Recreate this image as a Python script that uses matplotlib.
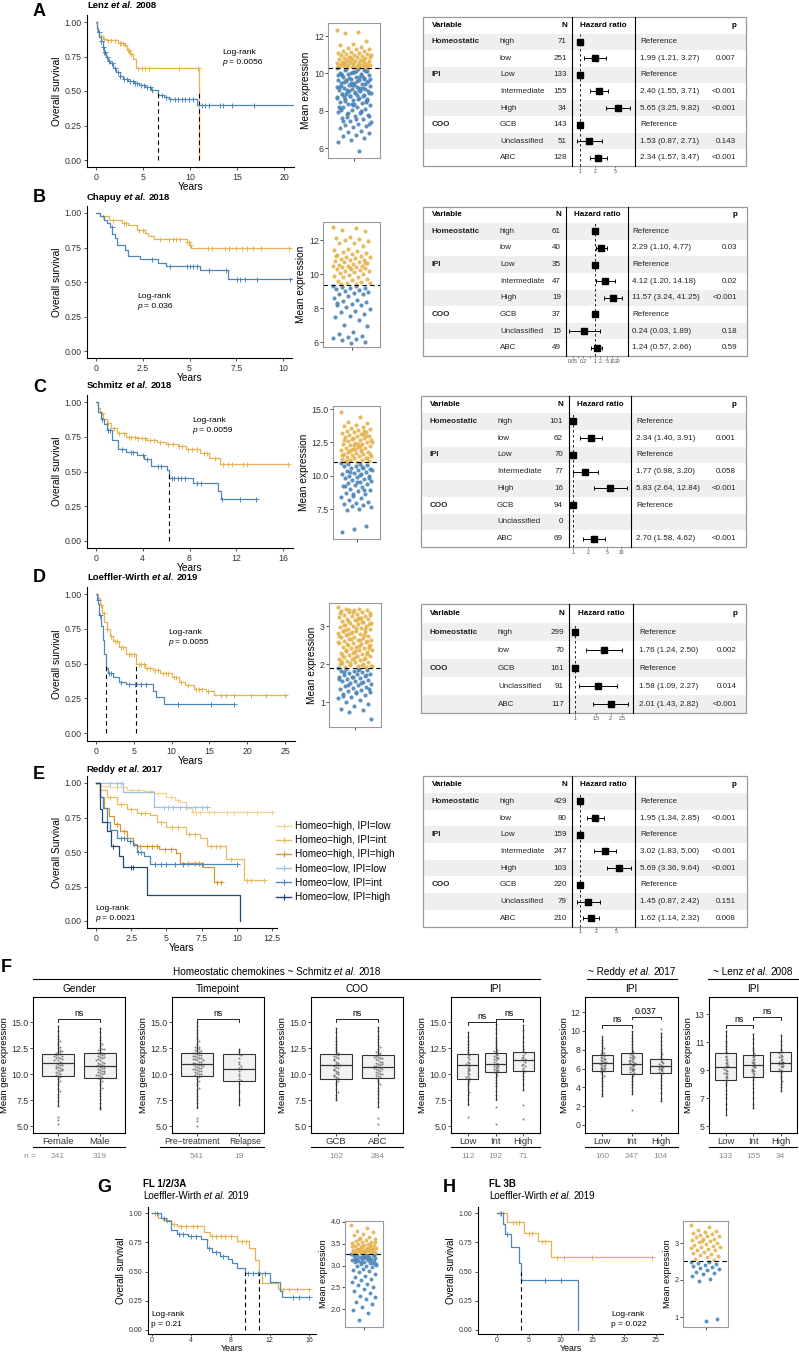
import matplotlib
matplotlib.use('Agg')
import matplotlib.pyplot as plt
from matplotlib.patches import Rectangle
from matplotlib.lines import Line2D
from matplotlib.ticker import NullLocator
from matplotlib.transforms import blended_transform_factory, ScaledTranslation
import numpy as np

plt.rcParams['font.family'] = ['Liberation Sans', 'DejaVu Sans']

W, H = 799, 1353
GOLD = '#E5B450'
BLUE = '#4E86B9'
INK = '#333333'

# ---------------- Kaplan-Meier data (time in years, survival) ----------------
# A  Lenz et al. 2008
A_hi_t = [0, 0.1, 0.3, 0.7, 1.1, 2.3, 3.0, 3.3, 3.6, 3.9, 4.3, 11.0]
A_hi_s = [1.0, 0.93, 0.90, 0.88, 0.87, 0.85, 0.83, 0.80, 0.77, 0.73, 0.665, 0.0]
A_hi_cens = [0.5, 0.8, 1.3, 1.6, 2.0, 2.5, 2.7, 2.9, 3.1, 3.4, 3.5, 3.7, 4.5, 4.9, 5.2, 5.6, 8.8, 10.8]
A_lo_t = [0, 0.1, 0.2, 0.35, 0.5, 0.7, 0.9, 1.1, 1.3, 1.5, 1.8, 2.1, 2.5, 2.9, 3.4, 4.0, 4.6, 5.2,
          5.8, 6.6, 7.2, 7.8, 10.7, 21.0]
A_lo_s = [1.0, 0.96, 0.93, 0.89, 0.86, 0.82, 0.78, 0.75, 0.72, 0.70, 0.67, 0.64, 0.61, 0.59, 0.57,
          0.56, 0.545, 0.53, 0.51, 0.47, 0.455, 0.44, 0.40, 0.40]
A_lo_cens = [0.3, 0.5, 0.7, 0.9, 1.0, 1.2, 1.4, 1.7, 2.0, 2.3, 2.6, 3.0, 3.3, 3.6, 3.9, 4.2, 4.4,
             4.8, 5.1, 5.4, 5.7, 6.0, 7.0, 7.4, 7.9, 8.4, 8.7, 9.1, 9.5, 9.9, 10.3, 11.3, 11.6,
             12.0, 13.2, 13.5, 14.5, 16.8]

# B  Chapuy et al. 2018
B_hi_t = [0, 0.2, 0.7, 1.4, 1.7, 2.2, 2.6, 2.8, 3.1, 4.85, 5.0, 5.07, 10.45]
B_hi_s = [1.0, 0.98, 0.95, 0.93, 0.91, 0.88, 0.855, 0.83, 0.81, 0.79, 0.77, 0.745, 0.745]
B_hi_cens = [0.4, 0.9, 1.5, 1.6, 2.3, 2.5, 3.4, 3.9, 4.1, 4.3, 4.5, 4.85, 4.95, 5.02, 6.0, 6.2,
             6.9, 7.1, 7.5, 7.8, 8.1, 8.4, 8.8, 10.3]
B_lo_t = [0, 0.2, 0.45, 0.6, 0.75, 0.85, 1.0, 1.1, 1.55, 1.73, 2.35, 3.3, 3.77, 5.55, 7.07, 10.45]
B_lo_s = [1.0, 0.975, 0.95, 0.925, 0.90, 0.85, 0.82, 0.77, 0.73, 0.69, 0.667, 0.64, 0.615, 0.59,
          0.52, 0.52]
B_lo_cens = [0.84, 2.98, 3.96, 4.85, 5.03, 5.2, 5.38, 6.06, 6.93, 7.52, 7.7, 7.97, 8.59, 10.37]

# C  Schmitz et al. 2018
C_hi_t = [0, 0.15, 0.34, 0.6, 0.9, 1.3, 1.77, 2.6, 3.5, 4.3, 5.2, 6.0, 7.0, 7.7, 8.9, 9.7, 10.6, 16.4]
C_hi_s = [1.0, 0.96, 0.92, 0.88, 0.85, 0.81, 0.78, 0.75, 0.74, 0.73, 0.715, 0.70, 0.68, 0.66,
          0.63, 0.60, 0.555, 0.555]
C_hi_cens = [0.5, 1.0, 1.5, 2.0, 2.4, 2.8, 3.0, 3.3, 3.6, 3.9, 4.2, 4.6, 5.0, 5.5, 6.2, 6.6, 7.1,
             7.4, 7.9, 8.2, 8.6, 9.2, 9.5, 10.2, 10.9, 11.3, 11.6, 12.6, 12.9, 16.4]
C_lo_t = [0, 0.2, 0.4, 0.7, 0.9, 1.33, 1.9, 2.6, 3.5, 4.1, 4.7, 6.1, 6.25, 8.3, 10.45, 10.7, 13.7]
C_lo_s = [1.0, 0.93, 0.88, 0.84, 0.80, 0.73, 0.66, 0.64, 0.62, 0.59, 0.54, 0.51, 0.45, 0.42,
          0.36, 0.30, 0.30]
C_lo_cens = [0.5, 1.0, 1.2, 2.2, 3.0, 3.2, 4.0, 4.4, 5.3, 5.6, 6.5, 6.7, 7.0, 7.3, 7.6, 8.6, 9.0,
             10.8, 12.3, 13.7]

# D  Loeffler-Wirth et al. 2019
D_hi_t = [0, 0.2, 0.5, 0.8, 1.1, 1.4, 1.8, 2.3, 3.0, 4.0, 5.3, 6.5, 7.5, 8.5, 10.0, 11.0, 11.8,
          12.9, 14.5, 15.6, 25.2]
D_hi_s = [1.0, 0.97, 0.92, 0.86, 0.80, 0.75, 0.70, 0.66, 0.62, 0.57, 0.50, 0.47, 0.45, 0.43,
          0.40, 0.37, 0.345, 0.315, 0.30, 0.27, 0.27]
D_hi_cens = [0.6, 1.0, 1.5, 2.0, 2.5, 2.8, 3.3, 3.6, 4.3, 4.6, 5.0, 5.7, 6.0, 6.3, 6.8, 7.2, 7.8,
             8.2, 8.8, 9.2, 9.5, 10.3, 10.6, 11.3, 12.2, 13.2, 13.6, 14.0, 14.8, 16.5, 17.2,
             18.3, 20.5, 22.5, 25.0]
D_lo_t = [0, 0.15, 0.3, 0.45, 0.6, 0.9, 1.1, 1.3, 1.6, 2.3, 3.0, 4.0, 7.6, 8.0, 9.0, 18.3]
D_lo_s = [1.0, 0.96, 0.93, 0.85, 0.77, 0.67, 0.57, 0.47, 0.43, 0.40, 0.37, 0.35, 0.30, 0.26,
          0.21, 0.21]
D_lo_cens = [0.2, 0.5, 1.7, 2.0, 3.3, 4.4, 5.2, 5.9, 6.6, 10.8, 15.2, 18.3]

# E  Reddy et al. 2017 (Homeostatic x IPI)
E_labels = ['Homeo=high, IPI=low', 'Homeo=high, IPI=int', 'Homeo=high, IPI=high',
            'Homeo=low, IPI=low', 'Homeo=low, IPI=int', 'Homeo=low, IPI=high']
E_colors = ['#F0D496', '#E8BB5E', '#D9962A', '#9EC1DF', '#4E86B9', '#24466B']
E_hl_t = [0, 0.3, 1.0, 2.2, 3.4, 4.1, 5.0, 5.6, 6.0, 6.4, 6.8, 12.5]
E_hl_s = [1.0, 0.98, 0.97, 0.95, 0.94, 0.93, 0.90, 0.88, 0.86, 0.82, 0.79, 0.79]
E_hl_cens = [1.5, 2.5, 3.0, 3.8, 4.4, 5.3, 5.8, 6.9, 7.1, 7.4, 8.0, 8.4, 9.3, 9.8, 10.7, 11.4, 12.5]
E_hi_t = [0, 0.3, 0.75, 1.5, 2.2, 2.9, 3.8, 4.3, 5.0, 6.4, 7.4, 7.9, 9.2, 10.5, 11.9]
E_hi_s = [1.0, 0.95, 0.90, 0.85, 0.81, 0.78, 0.77, 0.72, 0.68, 0.63, 0.60, 0.54, 0.45, 0.30, 0.30]
E_hi_cens = [1.0, 1.8, 2.5, 3.2, 3.5, 4.6, 5.4, 5.8, 6.6, 7.0, 8.2, 8.5, 8.8, 9.6, 10.7, 11.0, 11.9]
E_hh_t = [0, 0.3, 0.6, 0.9, 1.3, 1.7, 2.2, 2.6, 2.9, 4.5, 5.7, 6.0, 7.6, 8.4, 8.9]
E_hh_s = [1.0, 0.90, 0.82, 0.76, 0.70, 0.65, 0.60, 0.56, 0.545, 0.52, 0.49, 0.42, 0.39, 0.28, 0.28]
E_hh_cens = [1.5, 2.0, 2.7, 3.1, 3.6, 4.0, 4.3, 4.9, 5.3, 6.5, 7.0, 7.3, 8.6, 8.9]
E_ll_t = [0, 1.95, 4.1, 7.85]
E_ll_s = [1.0, 0.935, 0.826, 0.826]
E_ll_cens = [1.0, 1.5, 1.8, 4.8, 5.1, 5.5, 6.0, 6.4, 7.0, 7.5, 7.85]
E_li_t = [0, 0.3, 0.5, 0.8, 1.0, 1.5, 2.2, 2.6, 2.9, 3.4, 3.8, 10.0]
E_li_s = [1.0, 0.90, 0.82, 0.72, 0.66, 0.60, 0.58, 0.55, 0.50, 0.47, 0.415, 0.415]
E_li_cens = [1.8, 2.0, 2.4, 3.0, 3.2, 4.2, 4.6, 5.0, 5.6, 6.2, 7.5, 10.0]
E_lh_t = [0, 0.3, 0.4, 0.76, 1.1, 1.6, 1.95, 3.6, 10.2]
E_lh_s = [1.0, 0.81, 0.72, 0.65, 0.54, 0.47, 0.39, 0.19, 0.0]
E_lh_cens = [1.2, 2.5, 2.6]

# G  FL 1/2/3A
G_hi_t = [0, 0.6, 1.1, 1.9, 2.5, 5.3, 5.9, 8.7, 9.9, 10.5, 10.9, 11.2, 12.8, 16.0]
G_hi_s = [1.0, 0.96, 0.94, 0.91, 0.885, 0.84, 0.80, 0.76, 0.70, 0.60, 0.49, 0.40, 0.35, 0.35]
G_hi_cens = [0.3, 1.5, 2.2, 3.0, 3.5, 4.2, 4.6, 6.1, 6.5, 7.0, 7.4, 8.0, 9.2, 9.6, 13.3, 14.0, 14.8, 16.0]
G_lo_t = [0, 0.9, 1.4, 1.9, 2.5, 3.7, 5.0, 5.6, 6.1, 6.9, 7.7, 8.2, 8.7, 9.5, 12.0, 13.0, 13.2, 16.0]
G_lo_s = [1.0, 0.96, 0.93, 0.855, 0.82, 0.80, 0.775, 0.70, 0.67, 0.63, 0.61, 0.57, 0.53, 0.49,
          0.41, 0.33, 0.28, 0.28]
G_lo_cens = [0.5, 1.2, 2.8, 3.2, 4.0, 4.5, 5.8, 6.5, 7.2, 9.8, 10.3, 10.8, 11.5, 14.4, 15.0, 16.0]

# H  FL 3B
H_hi_t = [0, 1.5, 4.3, 6.5, 8.5, 24.4]
H_hi_s = [1.0, 0.92, 0.83, 0.76, 0.62, 0.62]
H_hi_cens = [0.5, 1.0, 2.5, 3.0, 3.5, 5.0, 5.5, 7.0, 7.5, 9.5, 10.5, 15.0, 24.4]
H_lo_t = [0, 1.0, 1.3, 2.2, 3.4, 3.8, 12.8]
H_lo_s = [1.0, 0.91, 0.82, 0.71, 0.57, 0.43, 0.0]
H_lo_cens = [0.6, 1.5, 7.5, 10.0]

# ---------------- Mean expression strip data ----------------
A_strip_hi = [12.31, 12.22, 12.18, 11.72, 11.55, 11.5, 11.41, 11.36, 11.3, 11.28, 11.22, 11.2, 11.15,
              11.11, 11.1, 11.05, 11.02, 10.98, 10.96, 10.93, 10.9, 10.88, 10.85, 10.84, 10.8, 10.78,
              10.76, 10.73, 10.7, 10.68, 10.66, 10.63, 10.61, 10.6, 10.57, 10.55, 10.52, 10.5, 10.5,
              10.47, 10.45, 10.44, 10.42, 10.4, 10.39, 10.37, 10.36, 10.34, 10.33, 10.32, 10.31,
              10.31, 10.58, 10.72, 10.9, 11.0, 10.45, 10.62, 10.38, 10.55]
A_strip_lo = [10.27, 10.21, 10.18, 10.12, 10.09, 10.03, 9.98, 9.96, 9.91, 9.83, 9.81, 9.77, 9.72,
              9.66, 9.63, 9.6, 9.54, 9.49, 9.47, 9.41, 9.37, 9.33, 9.29, 9.24, 9.18, 9.16, 9.11,
              9.06, 9.02, 8.97, 8.93, 8.89, 8.84, 8.79, 8.73, 8.7, 8.64, 8.58, 8.55, 8.47, 8.41,
              8.36, 8.31, 8.22, 8.17, 8.09, 8.04, 7.95, 7.89, 7.83, 7.76, 7.69, 7.61, 7.55, 7.47,
              7.38, 7.31, 7.24, 7.19, 7.11, 7.06, 6.93, 6.86, 6.79, 6.71, 6.64, 6.52, 6.43, 6.31,
              5.82, 10.24, 10.14, 10.06, 9.94, 9.87, 9.74, 9.69, 9.57, 9.52, 9.44, 9.35, 9.26,
              9.21, 9.13, 9.04, 8.99, 8.91, 8.81, 8.76, 8.67, 8.61, 8.5, 8.44, 8.28, 8.13, 7.99,
              7.86, 7.72, 7.58, 7.42, 10.19, 10.01, 9.89, 9.79, 9.65, 9.58, 9.39, 9.31, 9.22,
              9.08, 8.95, 8.86, 8.72, 8.53, 8.38, 8.19, 7.93, 7.66, 7.28, 10.11, 9.93, 9.71, 9.5,
              9.28, 9.1, 8.88, 8.62, 8.34, 8.02]
B_strip_hi = [12.78, 12.72, 12.6, 12.52, 12.2, 12.12, 12.05, 12.02, 11.95, 11.85, 11.8, 11.62, 11.5,
              11.42, 11.35, 11.3, 11.22, 11.15, 11.1, 11.05, 11.02, 10.98, 10.92, 10.88, 10.85,
              10.8, 10.75, 10.72, 10.68, 10.62, 10.58, 10.55, 10.5, 10.48, 10.45, 10.42, 10.4,
              10.35, 10.32, 10.28, 10.25, 10.2, 10.15, 10.1, 10.05, 10.0, 9.95, 9.9, 9.85, 9.8,
              9.72, 9.65, 9.6, 9.55, 9.5, 9.45, 9.42, 9.4, 10.62, 10.38, 11.08]
B_strip_lo = [9.32, 9.3, 9.25, 9.2, 9.15, 9.1, 9.05, 9.0, 8.95, 8.9, 8.85, 8.8, 8.7, 8.6, 8.5, 8.42,
              8.35, 8.25, 8.2, 8.15, 8.05, 7.95, 7.85, 7.75, 7.65, 7.55, 7.45, 7.3, 7.0, 6.95, 6.6,
              6.5, 6.35, 6.3, 6.25, 6.2, 6.1, 6.0, 5.95, 8.3]
C_strip_hi = [14.8, 14.42, 14.03, 13.92, 13.81, 13.7, 13.62, 13.55, 13.49, 13.44, 13.38, 13.31,
              13.26, 13.19, 13.12, 13.06, 13.01, 12.94, 12.9, 12.82, 12.77, 12.71, 12.64, 12.6,
              12.52, 12.46, 12.41, 12.36, 12.29, 12.21, 12.16, 12.11, 12.04, 12.0, 11.96, 11.91,
              11.84, 11.79, 11.71, 11.66, 11.61, 11.54, 11.49, 11.44, 11.41, 11.36, 11.29, 11.24,
              11.19, 11.16, 11.09, 11.06, 11.02, 13.35, 12.85, 12.55, 12.25, 11.75, 11.3, 12.0,
              12.7, 13.15, 11.9, 11.6, 12.4, 11.1, 12.95, 12.33, 11.53, 11.83]
C_strip_lo = [10.96, 10.91, 10.86, 10.8, 10.74, 10.69, 10.61, 10.56, 10.49, 10.41, 10.36, 10.29,
              10.22, 10.16, 10.09, 10.01, 9.96, 9.9, 9.81, 9.76, 9.69, 9.61, 9.52, 9.46, 9.39,
              9.31, 9.22, 9.12, 9.03, 8.91, 8.82, 8.71, 8.62, 8.51, 8.42, 8.31, 8.19, 8.06, 7.94,
              7.86, 7.79, 7.74, 7.62, 7.51, 7.44, 6.2, 6.02, 5.81, 10.65, 10.25, 9.85, 9.55, 9.25,
              8.95, 8.65, 10.45, 10.05]
D_strip_hi = [3.49, 3.46, 3.44, 3.42, 3.41, 3.39, 3.37, 3.36, 3.34, 3.31, 3.29, 3.27, 3.26, 3.24,
              3.21, 3.19, 3.18, 3.16, 3.13, 3.11, 3.09, 3.07, 3.06, 3.03, 3.01, 2.99, 2.97, 2.95,
              2.93, 2.91, 2.88, 2.86, 2.84, 2.82, 2.81, 2.79, 2.76, 2.74, 2.72, 2.71, 2.69, 2.66,
              2.64, 2.62, 2.61, 2.58, 2.56, 2.54, 2.52, 2.5, 2.48, 2.46, 2.44, 2.42, 2.41, 2.38,
              2.36, 2.34, 2.32, 2.31, 2.28, 2.26, 2.24, 2.22, 2.2, 2.18, 2.16, 2.14, 2.12, 2.1,
              2.08, 2.06, 2.04, 2.02, 2.0, 1.98, 1.96, 1.94, 1.93, 1.91, 3.38, 3.33, 3.22, 3.14,
              3.04, 2.96, 2.87, 2.77, 2.67, 2.57, 2.47, 2.37, 2.27, 2.17, 2.07, 1.97, 3.43, 3.28,
              3.17, 3.02, 2.92, 2.83, 2.73, 2.63, 2.53, 2.43, 2.33, 2.23, 2.13, 2.03, 1.95, 3.2,
              2.9, 2.6, 2.3, 2.0, 3.1, 2.8, 2.5, 2.2]
D_strip_lo = [1.89, 1.87, 1.86, 1.84, 1.82, 1.81, 1.79, 1.77, 1.75, 1.73, 1.71, 1.69, 1.67, 1.65,
              1.63, 1.61, 1.58, 1.56, 1.54, 1.52, 1.49, 1.47, 1.45, 1.42, 1.4, 1.37, 1.35, 1.32,
              1.29, 1.27, 1.24, 1.21, 1.18, 1.14, 1.1, 1.06, 1.01, 0.96, 0.9, 0.82, 0.78, 0.75,
              0.55, 1.85, 1.78, 1.72, 1.66, 1.6, 1.5, 1.44, 1.34, 1.26, 1.16]
G_strip_hi = [3.93, 3.86, 3.8, 3.76, 3.72, 3.69, 3.66, 3.63, 3.61, 3.59, 3.57, 3.55, 3.53, 3.52,
              3.5, 3.49, 3.47, 3.46, 3.44, 3.43, 3.42, 3.4, 3.39, 3.38, 3.37, 3.36, 3.35, 3.34,
              3.33, 3.32, 3.31, 3.3, 3.29, 3.28, 3.45, 3.41, 3.38, 3.35, 3.32, 3.3, 3.48, 3.36,
              3.54, 3.33, 3.29, 3.4, 3.44, 3.31, 3.37, 3.6]
G_strip_lo = [3.26, 3.25, 3.24, 3.23, 3.22, 3.21, 3.2, 3.19, 3.18, 3.17, 3.16, 3.15, 3.14, 3.13,
              3.12, 3.11, 3.1, 3.08, 3.07, 3.05, 3.04, 3.02, 3.0, 2.98, 2.96, 2.93, 2.9, 2.87,
              2.84, 2.8, 2.77, 2.74, 2.7, 2.66, 2.62, 2.58, 2.55, 2.5, 2.45, 2.42, 2.36, 2.3, 2.27,
              2.22, 2.15, 2.12, 2.05, 1.98, 1.9, 1.75, 3.24, 3.2, 3.16, 3.12, 3.09, 3.03, 3.22,
              3.14, 3.06]
H_strip_hi = [3.49, 3.42, 3.35, 3.33, 3.3, 3.28, 3.25, 3.22, 3.2, 3.18, 3.15, 3.12, 3.1, 3.08,
              3.05, 3.03, 3.0, 2.98, 2.95, 2.93, 2.9, 2.88, 2.85, 2.82, 2.8, 2.77, 2.74, 2.71,
              2.68, 2.65, 2.62, 2.58, 2.55, 3.06, 2.86]
H_strip_lo = [2.5, 2.48, 2.46, 2.44, 2.41, 2.38, 2.35, 2.33, 2.3, 2.26, 2.22, 2.19, 2.15, 2.1,
              2.02, 1.98, 0.95, 0.9]

# ---------------- Cox model tables ----------------
A_vars = ['Homeostatic', '', 'IPI', '', '', 'COO', '', '']
A_levels = ['high', 'low', 'Low', 'Intermediate', 'High', 'GCB', 'Unclassified', 'ABC']
A_N = [71, 251, 133, 155, 34, 143, 51, 128]
A_hr = [1, 1.99, 1, 2.40, 5.65, 1, 1.53, 2.34]
A_lo = [np.nan, 1.21, np.nan, 1.55, 3.25, np.nan, 0.87, 1.57]
A_hi = [np.nan, 3.27, np.nan, 3.71, 9.82, np.nan, 2.71, 3.47]
A_p = ['', '0.007', '', '<0.001', '<0.001', '', '0.143', '<0.001']

B_vars = A_vars
B_levels = A_levels
B_N = [61, 40, 35, 47, 19, 37, 15, 49]
B_hr = [1, 2.29, 1, 4.12, 11.57, 1, 0.24, 1.24]
B_lo = [np.nan, 1.10, np.nan, 1.20, 3.24, np.nan, 0.03, 0.57]
B_hi = [np.nan, 4.77, np.nan, 14.18, 41.25, np.nan, 1.89, 2.66]
B_p = ['', '0.03', '', '0.02', '<0.001', '', '0.18', '0.59']

C_vars = A_vars
C_levels = A_levels
C_N = [101, 62, 70, 77, 16, 94, 0, 69]
C_hr = [1, 2.34, 1, 1.77, 5.83, 1, np.nan, 2.70]
C_lo = [np.nan, 1.40, np.nan, 0.98, 2.64, np.nan, np.nan, 1.58]
C_hi = [np.nan, 3.91, np.nan, 3.20, 12.84, np.nan, np.nan, 4.62]
C_p = ['', '0.001', '', '0.058', '<0.001', '', '', '<0.001']

D_vars = ['Homeostatic', '', 'COO', '', '']
D_levels = ['high', 'low', 'GCB', 'Unclassified', 'ABC']
D_N = [299, 70, 161, 91, 117]
D_hr = [1, 1.76, 1, 1.58, 2.01]
D_lo = [np.nan, 1.24, np.nan, 1.09, 1.43]
D_hi = [np.nan, 2.50, np.nan, 2.27, 2.82]
D_p = ['', '0.002', '', '0.014', '<0.001']

E_vars = A_vars
E_levels = A_levels
E_N = [429, 80, 159, 247, 103, 220, 79, 210]
E_hr = [1, 1.95, 1, 3.02, 5.69, 1, 1.45, 1.62]
E_lo = [np.nan, 1.34, np.nan, 1.83, 3.36, np.nan, 0.87, 1.14]
E_hi = [np.nan, 2.85, np.nan, 5.00, 9.64, np.nan, 2.42, 2.32]
E_p = ['', '<0.001', '', '<0.001', '<0.001', '', '0.151', '0.008']

# ---------------- Panel F: box plots ----------------
Fg_labels = ['Female', 'Male']
Fg_q1 = [9.8, 9.6]; Fg_med = [11.05, 10.8]; Fg_q3 = [11.9, 12.0]
Fg_wlo = [6.9, 6.6]; Fg_whi = [14.6, 14.4]; Fg_n = [241, 319]
Fg_pts = [[14.6, 14.1, 13.7, 13.4, 13.2, 13.0, 12.8, 12.6, 12.5, 12.3, 12.2, 12.1, 12.0, 11.9, 11.9,
           11.8, 11.7, 11.6, 11.5, 11.5, 11.4, 11.3, 11.2, 11.1, 11.1, 11.0, 10.9, 10.8, 10.7, 10.6,
           10.6, 10.5, 10.4, 10.3, 10.2, 10.1, 10.0, 9.9, 9.8, 9.7, 9.5, 9.3, 9.1, 8.9, 8.6, 8.4,
           8.1, 7.8, 7.4, 6.9, 5.9, 5.6, 5.2, 11.3, 10.9, 11.7, 10.4, 12.2],
          [14.4, 14.0, 13.6, 13.3, 13.0, 12.9, 12.7, 12.5, 12.4, 12.3, 12.1, 12.0, 12.0, 11.9, 11.8,
           11.7, 11.6, 11.5, 11.4, 11.3, 11.2, 11.1, 11.0, 10.9, 10.9, 10.8, 10.7, 10.6, 10.5,
           10.4, 10.3, 10.2, 10.1, 10.0, 9.9, 9.8, 9.7, 9.6, 9.5, 9.3, 9.1, 8.9, 8.7, 8.5, 8.2,
           7.9, 7.6, 7.2, 6.8, 6.6, 11.6, 11.1, 10.6, 10.1, 11.9, 10.8, 9.9, 12.4, 11.3, 10.3]]
Ft_labels = ['Pre\u2212treatment', 'Relapse']
Ft_q1 = [9.85, 9.35]; Ft_med = [11.0, 10.5]; Ft_q3 = [12.0, 11.95]
Ft_wlo = [6.7, 7.0]; Ft_whi = [15.0, 12.4]; Ft_n = [541, 19]
Ft_pts = [[15.0, 14.6, 14.2, 13.9, 13.6, 13.4, 13.2, 13.0, 12.8, 12.6, 12.5, 12.4, 12.3, 12.2, 12.1,
           12.0, 11.9, 11.8, 11.7, 11.6, 11.5, 11.4, 11.3, 11.2, 11.1, 11.0, 10.9, 10.8, 10.7,
           10.6, 10.5, 10.4, 10.3, 10.2, 10.1, 10.0, 9.9, 9.8, 9.7, 9.5, 9.3, 9.1, 8.9, 8.7, 8.5,
           8.2, 7.9, 7.6, 7.2, 6.8, 5.8, 5.5, 5.0, 11.8, 11.5, 11.2, 10.9, 10.6, 10.3, 12.2, 11.0,
           10.5, 11.4, 10.0, 12.6, 11.7, 11.1, 10.8, 12.0, 11.3],
          [12.4, 12.2, 11.9, 11.8, 11.5, 11.2, 11.0, 10.8, 10.6, 10.5, 10.3, 10.0, 9.8, 9.5, 9.4,
           9.0, 8.3, 7.6, 7.0]]
Fc_labels = ['GCB', 'ABC']
Fc_q1 = [9.55, 9.65]; Fc_med = [10.85, 10.7]; Fc_q3 = [11.9, 11.85]
Fc_wlo = [7.5, 6.8]; Fc_whi = [14.4, 14.5]; Fc_n = [162, 284]
Fc_pts = [[14.4, 14.0, 13.5, 13.2, 12.9, 12.6, 12.4, 12.2, 12.0, 11.9, 11.8, 11.6, 11.5, 11.4, 11.2,
           11.1, 11.0, 10.9, 10.8, 10.7, 10.6, 10.5, 10.3, 10.2, 10.1, 10.0, 9.9, 9.7, 9.6, 9.5,
           9.3, 9.1, 8.9, 8.6, 8.3, 8.0, 7.7, 7.5, 11.3, 10.4, 9.8, 11.7, 10.9],
          [14.5, 14.1, 13.7, 13.4, 13.1, 12.8, 12.6, 12.4, 12.2, 12.0, 11.9, 11.8, 11.7, 11.6, 11.5,
           11.4, 11.3, 11.2, 11.1, 11.0, 10.9, 10.8, 10.7, 10.6, 10.5, 10.4, 10.3, 10.2, 10.1,
           10.0, 9.9, 9.8, 9.7, 9.6, 9.4, 9.2, 9.0, 8.7, 8.4, 8.1, 7.7, 7.3, 6.8, 5.8, 5.2, 11.5,
           11.0, 10.5, 10.0, 11.2, 10.8, 12.1, 11.6, 10.6]]
Fi_labels = ['Low', 'Int', 'High']
Fi_q1 = [9.55, 10.15, 10.3]; Fi_med = [10.9, 11.0, 11.3]; Fi_q3 = [11.95, 12.05, 12.1]
Fi_wlo = [7.0, 7.5, 8.5]; Fi_whi = [14.0, 14.8, 14.7]; Fi_n = [112, 192, 71]
Fi_pts = [[14.0, 13.6, 13.2, 12.9, 12.6, 12.3, 12.1, 11.9, 11.8, 11.6, 11.4, 11.2, 11.1, 10.9, 10.8,
           10.6, 10.5, 10.3, 10.1, 10.0, 9.8, 9.6, 9.5, 9.3, 9.1, 8.9, 8.6, 8.3, 8.0, 7.6, 7.1, 5.9,
           11.0, 10.4, 9.7],
          [14.8, 14.3, 13.9, 13.5, 13.2, 13.0, 12.7, 12.5, 12.3, 12.1, 12.0, 11.9, 11.8, 11.6, 11.5,
           11.4, 11.3, 11.1, 11.0, 10.9, 10.8, 10.7, 10.6, 10.5, 10.4, 10.3, 10.2, 10.1, 9.9, 9.7,
           9.4, 9.1, 8.8, 8.4, 8.0, 7.6, 6.8, 5.2, 11.7, 11.2, 10.8, 10.4, 12.2, 11.5],
          [14.7, 14.2, 13.6, 13.1, 12.7, 12.4, 12.2, 12.0, 11.8, 11.6, 11.4, 11.3, 11.2, 11.0, 10.8,
           10.6, 10.4, 10.3, 10.1, 9.8, 9.5, 9.0, 8.5, 7.0, 5.7, 11.5, 10.9]]
Fr_labels = ['Low', 'Int', 'High']
Fr_q1 = [5.7, 5.45, 5.5]; Fr_med = [6.6, 6.5, 6.3]; Fr_q3 = [7.4, 7.6, 7.0]
Fr_wlo = [3.1, 3.3, 2.6]; Fr_whi = [9.3, 10.0, 9.8]; Fr_n = [160, 247, 104]
Fr_pts = [[9.4, 9.0, 8.7, 8.4, 8.2, 8.0, 7.8, 7.6, 7.5, 7.4, 7.3, 7.2, 7.1, 7.0, 6.9, 6.8, 6.7, 6.6,
           6.6, 6.5, 6.4, 6.3, 6.2, 6.1, 6.0, 5.9, 5.8, 5.7, 5.6, 5.4, 5.2, 5.0, 4.7, 4.4, 4.1, 3.7,
           3.3, 3.1, 7.0, 6.7, 6.4, 6.1],
          [10.0, 9.6, 9.2, 8.9, 8.6, 8.3, 8.1, 7.9, 7.7, 7.6, 7.5, 7.4, 7.3, 7.2, 7.1, 7.0, 6.9, 6.8,
           6.7, 6.6, 6.5, 6.4, 6.3, 6.2, 6.1, 6.0, 5.9, 5.8, 5.7, 5.6, 5.5, 5.4, 5.2, 5.0, 4.7, 4.4,
           4.0, 3.6, 3.3, 1.6, 7.2, 6.8, 6.4, 6.0, 6.6],
          [10.2, 9.8, 9.3, 8.9, 8.5, 8.1, 7.8, 7.5, 7.3, 7.1, 7.0, 6.8, 6.7, 6.5, 6.4, 6.3, 6.2, 6.1,
           6.0, 5.9, 5.8, 5.7, 5.6, 5.5, 5.3, 5.0, 4.7, 4.3, 3.9, 3.4, 2.9, 2.5, 6.6, 6.2]]
Fl_labels = ['Low', 'Int', 'High']
Fl_q1 = [8.3, 8.5, 8.95]; Fl_med = [9.2, 9.35, 9.5]; Fl_q3 = [10.2, 10.1, 10.3]
Fl_wlo = [5.8, 6.3, 7.5]; Fl_whi = [11.8, 11.6, 11.5]; Fl_n = [133, 155, 34]
Fl_pts = [[11.8, 11.4, 11.1, 10.9, 10.7, 10.5, 10.3, 10.2, 10.0, 9.9, 9.7, 9.6, 9.5, 9.4, 9.3, 9.2,
           9.1, 9.0, 8.9, 8.8, 8.7, 8.6, 8.5, 8.4, 8.3, 8.1, 7.9, 7.6, 7.3, 7.0, 6.6, 6.2, 5.8, 9.8,
           9.3, 8.8],
          [11.6, 11.2, 10.9, 10.6, 10.4, 10.2, 10.1, 10.0, 9.9, 9.8, 9.7, 9.6, 9.5, 9.4, 9.3, 9.2,
           9.1, 9.0, 8.9, 8.8, 8.7, 8.6, 8.5, 8.3, 8.0, 7.7, 7.4, 7.0, 6.6, 6.3, 9.6, 9.2, 8.9],
          [11.5, 11.1, 10.8, 10.5, 10.4, 10.3, 10.1, 10.0, 9.9, 9.8, 9.7, 9.6, 9.55, 9.5, 9.45, 9.4,
           9.3, 9.2, 9.1, 9.0, 8.95, 8.9, 8.8, 8.6, 8.4, 8.2, 8.0, 7.8, 7.5, 9.6, 9.5, 9.3, 9.9,
           10.2]]

fig = plt.figure(figsize=(W / 100, H / 100), dpi=100)
fig.patch.set_facecolor('white')
R = fig.canvas.get_renderer()


def px_axes(x0, y0, x1, y1):
    return fig.add_axes([x0 / W, 1 - y1 / H, (x1 - x0) / W, (y1 - y0) / H])


def cal_lim(p0, p1, cal, log=False):
    (va, pa), (vb, pb) = cal
    if log:
        va, vb = np.log10(va), np.log10(vb)
    k = (vb - va) / (pb - pa)
    lo, hi = va + (p0 - pa) * k, va + (p1 - pa) * k
    if log:
        lo, hi = 10 ** lo, 10 ** hi
    return lo, hi


def ftext(x, y, s, **kw):
    kw.setdefault('va', 'center')
    return fig.text(x / W, 1 - y / H, s, **kw)


def rich(x, y, parts, size, ha='left', color='black'):
    def width(s, w, st):
        t = fig.text(0, 0, s, fontsize=size, fontweight=w, fontstyle=st)
        wd = t.get_window_extent(renderer=R).width
        t.remove()
        return wd
    sp = width('x x', 'normal', 'normal') - width('xx', 'normal', 'normal')
    ws = [width(s, w, st) for s, w, st in parts]
    total = sum(ws) + sp * (len(parts) - 1)
    x0 = x - total / 2 if ha == 'center' else x
    for (s, w, st), wd in zip(parts, ws):
        ftext(x0, y, s, fontsize=size, fontweight=w, fontstyle=st, ha='left', color=color)
        x0 += wd + sp


def km_panel(box, xcal, ycal, curves, xticks, xlabels, ylabel, lr, p_txt, p_italic=True,
             medians=True, fs_tick=6.3, fs_lab=7.3, fs_lr=6.1, years_y=None):
    x0, y0, x1, y1 = box
    ax = px_axes(*box)
    ax.set_xlim(*cal_lim(x0, x1, xcal))
    ax.set_ylim(*cal_lim(y1, y0, ycal))
    for t, s, cens, col in curves:
        t = np.asarray(t, float)
        s = np.asarray(s, float)
        ax.step(t, s, where='post', color=col, lw=0.9)
        c = np.asarray(cens, float)
        idx = np.searchsorted(t, c, side='right') - 1
        ax.plot(c, s[idx], '+', color=col, ms=3.6, mew=0.7)
        if medians and (s <= 0.5).any():
            tm = t[np.argmax(s <= 0.5)]
            ax.plot([tm, tm], [0, 0.5], color='black', lw=0.8, ls=(0, (4, 3)))
    for sp in ['top', 'right']:
        ax.spines[sp].set_visible(False)
    for sp in ['left', 'bottom']:
        ax.spines[sp].set_linewidth(0.8)
    ax.set_xticks(xticks)
    ax.set_xticklabels(xlabels)
    ax.set_yticks([0, 0.25, 0.5, 0.75, 1.0])
    ax.set_yticklabels(['0.00', '0.25', '0.50', '0.75', '1.00'])
    ax.tick_params(labelsize=fs_tick, length=2.5, width=0.6, pad=1.5, colors=INK)
    if years_y is None:
        ax.set_xlabel('Years', fontsize=fs_lab, labelpad=0.5)
    else:
        ax.tick_params(axis='x', length=1.5, pad=0.6)
        ftext((x0 + x1) / 2, years_y, 'Years', fontsize=6.3, ha='center')
    ax.set_ylabel(ylabel, fontsize=fs_lab, labelpad=2)
    ftext(lr[0], lr[1], 'Log-rank', fontsize=fs_lr)
    if p_italic:
        rich(lr[0], lr[1] + 10, [('p', 'normal', 'italic'), ('= ' + p_txt, 'normal', 'normal')], fs_lr)
    else:
        ftext(lr[0], lr[1] + 10, 'p = ' + p_txt, fontsize=fs_lr)
    return ax


def strip_panel(box, ycal, hi_vals, lo_vals, thr, yticks, ylabels, fs=6.3, fs_lab=7.3, ms=9):
    ax = px_axes(*box)
    ax.set_xlim(-0.5, 0.5)
    ax.set_ylim(*cal_lim(box[3], box[1], ycal))
    for vals, col in ((lo_vals, BLUE), (hi_vals, GOLD)):
        v = np.asarray(vals, float)
        xj = ((np.arange(len(v)) * 0.618034) % 1 - 0.5) * 0.66
        ax.scatter(xj, v, s=ms, color=col, alpha=0.9, lw=0)
    ax.axhline(thr, color='black', lw=0.8, ls=(0, (4, 3)))
    for sp in ax.spines.values():
        sp.set_color('#9A9A9A')
        sp.set_linewidth(0.8)
    ax.set_xticks([0])
    ax.set_xticklabels([''])
    ax.set_yticks(yticks)
    ax.set_yticklabels(ylabels)
    ax.tick_params(labelsize=fs, length=2, width=0.6, pad=1, colors=INK)
    ax.set_ylabel('Mean expression', fontsize=fs_lab, labelpad=2)
    return ax


def forest_table(lay, vars_, levels, N, hr, lo, hi, pvals, fcal, fticks, flabels):
    top, hb, bottom, left, right, var_x, lev_x, n_r, l1, l2, est_x, p_r = lay
    n = len(levels)
    rh = (bottom - hb) / n
    tax = px_axes(left, top, right, bottom)
    tax.set_xlim(left, right)
    tax.set_ylim(bottom, top)
    tax.axis('off')
    fs = 5.8
    for i in range(n):
        if i % 2 == 0:
            tax.add_patch(Rectangle((left, hb + i * rh), right - left, rh, color='#EFEFEF', lw=0))
    tax.add_patch(Rectangle((left, top), right - left, bottom - top, fill=False,
                            edgecolor='#9A9A9A', lw=0.9, clip_on=False))
    for lx in (l1, l2):
        tax.plot([lx, lx], [top, bottom], color='black', lw=0.8, clip_on=False)
    yh = (top + hb) / 2
    tax.text(var_x, yh, 'Variable', fontsize=fs, fontweight='bold', va='center')
    tax.text(n_r, yh, 'N', fontsize=fs, fontweight='bold', va='center', ha='right')
    tax.text((l1 + l2) / 2, yh, 'Hazard ratio', fontsize=fs, fontweight='bold', va='center', ha='center')
    tax.text(p_r, yh, 'p', fontsize=fs, fontweight='bold', va='center', ha='right')
    hr = np.asarray(hr, float)
    lo = np.asarray(lo, float)
    hi = np.asarray(hi, float)
    for i in range(n):
        yc = hb + (i + 0.5) * rh
        tax.text(var_x, yc, vars_[i], fontsize=fs, fontweight='bold', va='center', color='#222222')
        tax.text(lev_x, yc, levels[i], fontsize=fs, va='center', color='#222222')
        tax.text(n_r, yc, str(N[i]), fontsize=fs, va='center', ha='right', color='#222222')
        if np.isnan(hr[i]):
            est = ''
        elif np.isnan(lo[i]):
            est = 'Reference'
        else:
            est = '%.2f (%.2f, %.2f)' % (hr[i], lo[i], hi[i])
        tax.text(est_x, yc, est, fontsize=fs, va='center', color='#222222')
        tax.text(p_r, yc, pvals[i], fontsize=fs, va='center', ha='right', color='#222222')
    fax = px_axes(l1, hb, l2, bottom)
    fax.set_xscale('log')
    fax.set_xlim(*cal_lim(l1, l2, fcal, log=True))
    fax.set_ylim(n - 0.5, -0.5)
    fax.patch.set_alpha(0)
    for sp in fax.spines.values():
        sp.set_visible(False)
    fax.axvline(1, color='black', lw=0.6, ls=(0, (3, 3)))
    rows = np.arange(n)
    ref = ~np.isnan(hr) & np.isnan(lo)
    ci = ~np.isnan(lo)
    fax.plot(hr[ref], rows[ref], 's', color='black', ms=4.6, clip_on=False)
    fax.errorbar(hr[ci], rows[ci], xerr=[hr[ci] - lo[ci], hi[ci] - hr[ci]], fmt='s', color='black',
                 ms=4.6, elinewidth=0.7, capsize=1.3, capthick=0.7, clip_on=False)
    fax.set_xticks(fticks)
    fax.set_xticklabels(flabels)
    fax.xaxis.set_minor_locator(NullLocator())
    fax.set_yticks([])
    fax.tick_params(axis='x', labelsize=3.6, length=1.5, width=0.4, pad=0.5, colors='#444444')


def swarm_offsets(vals, bin_w, dx, maxw):
    v = np.asarray(vals, float)
    bins = np.round(v / bin_w).astype(int)
    off = np.zeros(len(v))
    for b in np.unique(bins):
        idx = np.where(bins == b)[0]
        for j, i in enumerate(idx):
            k = (j + 1) // 2
            off[i] = (1 if j % 2 else -1) * k * dx
    return np.clip(off, -maxw, maxw)


def box_panel(box, ycal, labels, q1, med, q3, wlo, whi, pts, yticks, ylabels, counts, title,
              brackets, uline_x0=None, bin_w=0.3, xlab_fs=6.8, xlab_shift=None):
    ax = px_axes(*box)
    k = len(labels)
    pos = np.arange(1, k + 1)
    ax.set_xlim(0.4, k + 0.6)
    ylo, yhi = cal_lim(box[3], box[1], ycal)
    ax.set_ylim(ylo, yhi)
    stats = [dict(med=m, q1=a, q3=b, whislo=wl, whishi=wh, fliers=[])
             for m, a, b, wl, wh in zip(med, q1, q3, wlo, whi)]
    ax.bxp(stats, positions=pos, widths=0.75, patch_artist=True, showfliers=False, showcaps=False,
           boxprops=dict(facecolor='#F2F2F2', edgecolor=INK, lw=0.8),
           medianprops=dict(color=INK, lw=0.9), whiskerprops=dict(color=INK, lw=0.8))
    for p, vals in zip(pos, pts):
        off = swarm_offsets(vals, bin_w * (yhi - ylo) / 13.0, 0.045, 0.36)
        ax.scatter(p + off, vals, s=2.2, color='#3A3A3A', alpha=0.6, lw=0, zorder=3)
    rng = yhi - ylo
    for a, b, lab, yb in brackets:
        ax.plot([a, a, b, b], [yb - 0.02 * rng, yb, yb, yb - 0.02 * rng], color='black', lw=0.6,
                clip_on=False)
        ax.text((a + b) / 2, yb + 0.008 * rng, lab, ha='center', va='bottom', fontsize=6.3)
    for sp in ax.spines.values():
        sp.set_color('black')
        sp.set_linewidth(0.8)
    ax.set_xticks(pos)
    ax.set_xticklabels(labels)
    ax.set_yticks(yticks)
    ax.set_yticklabels(ylabels)
    ax.tick_params(labelsize=6.3, length=2, width=0.6, pad=1.2, colors=INK)
    ax.tick_params(axis='x', labelsize=xlab_fs)
    if xlab_shift is not None:
        for lbl, dx in zip(ax.get_xticklabels(), xlab_shift):
            lbl.set_transform(lbl.get_transform() + ScaledTranslation(dx / 100, 0, fig.dpi_scale_trans))
    ax.set_ylabel('Mean gene expression', fontsize=6.8, labelpad=1.5)
    ftext((box[0] + box[2]) / 2, 989, title, fontsize=7.3, ha='center')
    x0 = box[0] if uline_x0 is None else uline_x0
    fig.add_artist(Line2D([x0 / W, box[2] / W], [1 - 1147 / H] * 2, color='black', lw=0.8))
    tr = blended_transform_factory(ax.transData, fig.transFigure)
    for p, c in zip(pos, counts):
        ax.text(p, 1 - 1156 / H, str(c), transform=tr, ha='center', va='center', fontsize=6,
                color='#8C8C8C')
    return ax


# ---------------- Panel letters and titles ----------------
for lab, x, y in [('A', 33, 11), ('B', 33, 197), ('C', 33, 387), ('D', 33, 577), ('E', 33, 775),
                  ('F', 1, 967), ('G', 97, 1187), ('H', 443, 1187)]:
    ftext(x, y, lab, fontsize=13, fontweight='bold')

rich(87, 6, [('Lenz', 'bold', 'normal'), ('et al.', 'bold', 'italic'), ('2008', 'bold', 'normal')], 6.8)
rich(87, 197, [('Chapuy', 'bold', 'normal'), ('et al.', 'bold', 'italic'), ('2018', 'bold', 'normal')], 6.8)
rich(87, 386, [('Schmitz', 'bold', 'normal'), ('et al.', 'bold', 'italic'), ('2018', 'bold', 'normal')], 6.8)
rich(87, 577, [('Loeffler-Wirth', 'bold', 'normal'), ('et al.', 'bold', 'italic'), ('2019', 'bold', 'normal')], 6.8)
rich(86, 769, [('Reddy', 'bold', 'normal'), ('et al.', 'bold', 'italic'), ('2017', 'bold', 'normal')], 6.8)

# ---------------- KM panels ----------------
km_panel((87, 15, 294, 167), ((0, 96), (20, 284)), ((1, 22), (0, 160)),
         [(A_hi_t, A_hi_s, A_hi_cens, GOLD), (A_lo_t, A_lo_s, A_lo_cens, BLUE)],
         [0, 5, 10, 15, 20], ['0', '5', '10', '15', '20'], 'Overall survival', (222, 53), '0.0056')
km_panel((87, 206, 292, 358), ((0, 96), (10, 283)), ((1, 213), (0, 351)),
         [(B_hi_t, B_hi_s, B_hi_cens, GOLD), (B_lo_t, B_lo_s, B_lo_cens, BLUE)],
         [0, 2.5, 5, 7.5, 10], ['0', '2.5', '5', '7.5', '10'], 'Overall survival', (137, 297), '0.036')
km_panel((87, 395, 293, 548), ((0, 96), (16, 283)), ((1, 402), (0, 541)),
         [(C_hi_t, C_hi_s, C_hi_cens, GOLD), (C_lo_t, C_lo_s, C_lo_cens, BLUE)],
         [0, 4, 8, 12, 16], ['0', '4', '8', '12', '16'], 'Overall survival', (192, 420), '0.0059')
km_panel((87, 587, 295, 741), ((0, 96), (25, 285)), ((1, 594), (0, 733)),
         [(D_hi_t, D_hi_s, D_hi_cens, GOLD), (D_lo_t, D_lo_s, D_lo_cens, BLUE)],
         [0, 5, 10, 15, 20, 25], ['0', '5', '10', '15', '20', '25'], 'Overall survival', (168, 633),
         '0.0055')
E_curves = [(E_hl_t, E_hl_s, E_hl_cens), (E_hi_t, E_hi_s, E_hi_cens), (E_hh_t, E_hh_s, E_hh_cens),
            (E_ll_t, E_ll_s, E_ll_cens), (E_li_t, E_li_s, E_li_cens), (E_lh_t, E_lh_s, E_lh_cens)]
km_panel((87, 776, 277, 928), ((0, 96), (12.5, 272)), ((1, 783), (0, 921)),
         [(t, s, c, col) for (t, s, c), col in zip(E_curves, E_colors)],
         [0, 2.5, 5, 7.5, 10, 12.5], ['0', '2.5', '5', '7.5', '10', '12.5'], 'Overall Survival',
         (95, 908), '0.0021', medians=False)
handles = [Line2D([], [], color=c, lw=1.0, marker='+', ms=5, mew=0.8) for c in E_colors]
fig.legend(handles, E_labels, loc='upper left', bbox_to_anchor=(276 / W, 1 - 821 / H), frameon=False,
           fontsize=7.2, handlelength=1.5, labelspacing=0.42, handletextpad=0.4, borderpad=0,
           borderaxespad=0)

# ---------------- strip panels ----------------
strip_panel((328, 23, 380, 158), ((12, 36), (6, 148)), A_strip_hi, A_strip_lo, 10.3,
            [6, 8, 10, 12], ['6', '8', '10', '12'])
strip_panel((323, 222, 380, 347), ((12, 240), (6, 342)), B_strip_hi, B_strip_lo, 9.35,
            [6, 8, 10, 12], ['6', '8', '10', '12'])
strip_panel((333, 406, 380, 539), ((15, 409), (7.5, 509)), C_strip_hi, C_strip_lo, 11.0,
            [7.5, 10, 12.5, 15], ['7.5', '10.0', '12.5', '15.0'])
strip_panel((329, 603, 381, 727), ((3, 626), (1, 702)), D_strip_hi, D_strip_lo, 1.9,
            [1, 2, 3], ['1', '2', '3'])

# ---------------- forest tables ----------------
forest_table((17, 33.5, 166, 423, 746, 432, 500, 567, 572, 635, 640, 736),
             A_vars, A_levels, A_N, A_hr, A_lo, A_hi, A_p, ((1, 580), (10, 630)), [1, 2, 5], ['1', '2', '5'])
forest_table((207, 223, 356, 423, 747, 432, 500, 561, 566, 628, 632, 737),
             B_vars, B_levels, B_N, B_hr, B_lo, B_hi, B_p, ((1, 595), (10, 612)),
             [0.05, 0.1, 0.2, 0.5, 1, 2, 5, 10, 20], ['0.05', '', '0.2', '', '1', '2', '5', '10', '20'])
forest_table((396, 413, 547, 421, 746, 430, 497, 563, 569, 631, 636, 736),
             C_vars, C_levels, C_N, C_hr, C_lo, C_hi, C_p, ((1, 573.3), (10, 621.3)),
             [1, 2, 5, 10], ['1', '2', '5', '10'])
forest_table((604, 623, 713, 421, 746, 430, 498, 564, 569, 633, 639, 737),
             D_vars, D_levels, D_N, D_hr, D_lo, D_hi, D_p, ((1, 575), (10, 693)),
             [1, 1.5, 2, 2.5], ['1', '1.5', '2', '2.5'])
forest_table((776, 793, 926.6, 423, 747, 432, 500, 567, 572, 635, 640, 736),
             E_vars, E_levels, E_N, E_hr, E_lo, E_hi, E_p, ((1, 580), (10, 632)), [1, 2, 5], ['1', '2', '5'])

# ---------------- Panel F ----------------
rich(277, 972, [('Homeostatic chemokines ~ Schmitz', 'normal', 'normal'), ('et al.', 'normal', 'italic'),
                ('2018', 'normal', 'normal')], 7.2, ha='center')
rich(632, 972, [('~ Reddy', 'normal', 'normal'), ('et al.', 'normal', 'italic'), ('2017', 'normal', 'normal')],
     7.2, ha='center')
rich(753, 972, [('~ Lenz', 'normal', 'normal'), ('et al.', 'normal', 'italic'), ('2008', 'normal', 'normal')],
     7.2, ha='center')
for xa, xb in [(33, 540), (587, 677), (708, 798)]:
    fig.add_artist(Line2D([xa / W, xb / W], [1 - 979 / H] * 2, color='black', lw=0.8))
ftext(24, 1156, 'n =', fontsize=6, color='#8C8C8C')

sch_cal = ((12.5, 1048), (5.0, 1126))
sch_ticks = [5, 7.5, 10, 12.5, 15]
sch_lab = ['5.0', '7.5', '10.0', '12.5', '15.0']
box_panel((33, 997, 125, 1133), sch_cal, Fg_labels, Fg_q1, Fg_med, Fg_q3, Fg_wlo, Fg_whi, Fg_pts,
          sch_ticks, sch_lab, Fg_n, 'Gender', [(1, 2, 'ns', 15.3)])
box_panel((172, 997, 264, 1133), sch_cal, Ft_labels, Ft_q1, Ft_med, Ft_q3, Ft_wlo, Ft_whi, Ft_pts,
          sch_ticks, sch_lab, Ft_n, 'Timepoint', [(1, 2, 'ns', 15.3)], uline_x0=160,
          xlab_fs=6.2, xlab_shift=[-5, 6])
box_panel((311, 997, 403, 1133), sch_cal, Fc_labels, Fc_q1, Fc_med, Fc_q3, Fc_wlo, Fc_whi, Fc_pts,
          sch_ticks, sch_lab, Fc_n, 'COO', [(1, 2, 'ns', 15.3)])
box_panel((451, 997, 540, 1133), sch_cal, Fi_labels, Fi_q1, Fi_med, Fi_q3, Fi_wlo, Fi_whi, Fi_pts,
          sch_ticks, sch_lab, Fi_n, 'IPI', [(1, 2, 'ns', 15.0), (2, 3, 'ns', 15.3)])
box_panel((585, 997, 678, 1133), ((12, 1012), (0, 1125)), Fr_labels, Fr_q1, Fr_med, Fr_q3, Fr_wlo,
          Fr_whi, Fr_pts, [0, 2, 4, 6, 8, 10, 12], ['0', '2', '4', '6', '8', '10', '12'], Fr_n, 'IPI',
          [(1, 2, 'ns', 10.6), (2, 3, '0.037', 11.5)])
box_panel((709, 997, 797, 1133), ((13, 1014), (5, 1126)), Fl_labels, Fl_q1, Fl_med, Fl_q3, Fl_wlo,
          Fl_whi, Fl_pts, [5, 7, 9, 11, 13], ['5', '7', '9', '11', '13'], Fl_n, 'IPI',
          [(1, 2, 'ns', 12.2), (2, 3, 'ns', 12.8)])

# ---------------- Panels G and H ----------------
ftext(143, 1184, 'FL 1/2/3A', fontsize=7, fontweight='bold')
rich(143, 1196, [('Loeffler-Wirth', 'normal', 'normal'), ('et al.', 'normal', 'italic'),
                 ('2019', 'normal', 'normal')], 7)
ftext(489, 1184, 'FL 3B', fontsize=7, fontweight='bold')
rich(489, 1196, [('Loeffler-Wirth', 'normal', 'normal'), ('et al.', 'normal', 'italic'),
                 ('2019', 'normal', 'normal')], 7)

km_panel((148, 1207, 316, 1334), ((0, 152), (16, 309)), ((1, 1213), (0, 1330)),
         [(G_hi_t, G_hi_s, G_hi_cens, GOLD), (G_lo_t, G_lo_s, G_lo_cens, BLUE)],
         [0, 4, 8, 12, 16], ['0', '4', '8', '12', '16'], 'Overall survival', (151, 1315), '0.21',
         p_italic=False, fs_tick=5.0, fs_lab=7, fs_lr=6, years_y=1348.5)
km_panel((478, 1207, 663, 1334), ((0, 497), (25, 656)), ((1, 1213), (0, 1330)),
         [(H_hi_t, H_hi_s, H_hi_cens, GOLD), (H_lo_t, H_lo_s, H_lo_cens, BLUE)],
         [0, 5, 10, 15, 20, 25], ['0', '5', '10', '15', '20', '25'], 'Overall survival', (611, 1315),
         '0.022', p_italic=False, fs_tick=5.0, fs_lab=7, fs_lr=6, years_y=1348.5)
strip_panel((345, 1221, 383, 1327), ((4, 1222), (2, 1309)), G_strip_hi, G_strip_lo, 3.27,
            [2, 2.5, 3, 3.5, 4], ['2.0', '2.5', '3.0', '3.5', '4.0'], fs=5.3, fs_lab=6.5, ms=8)
strip_panel((683, 1221, 728, 1327), ((3, 1243), (1, 1317)), H_strip_hi, H_strip_lo, 2.51,
            [1, 2, 3], ['1', '2', '3'], fs=5.3, fs_lab=6.5, ms=8)

fig.savefig('out.png', dpi=100)
